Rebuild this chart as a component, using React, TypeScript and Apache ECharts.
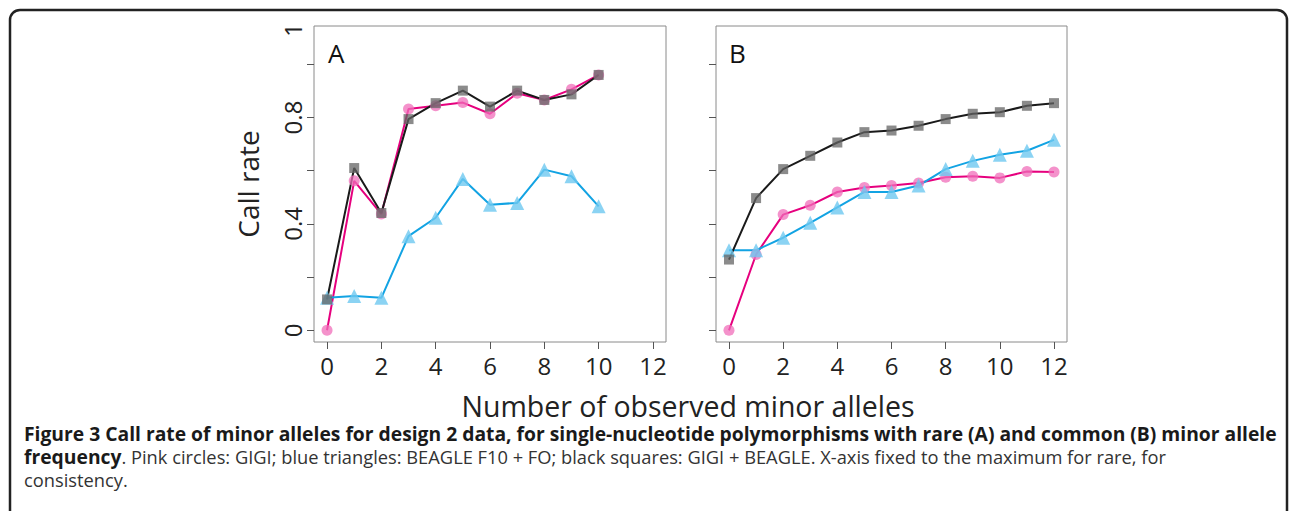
import React, { useEffect, useRef } from 'react';
import * as echarts from 'echarts';

// ---- data ----
const rareX = [0, 1, 2, 3, 4, 5, 6, 7, 8, 9, 10];
const rareGIGI = [0.0, 0.562, 0.437, 0.832, 0.844, 0.856, 0.814, 0.891, 0.866, 0.906, 0.96];
const rareBEAGLE = [0.122, 0.129, 0.122, 0.354, 0.423, 0.569, 0.472, 0.479, 0.604, 0.579, 0.466];
const rareBoth = [0.116, 0.61, 0.441, 0.794, 0.854, 0.901, 0.841, 0.901, 0.866, 0.887, 0.96];

const commonX = [0, 1, 2, 3, 4, 5, 6, 7, 8, 9, 10, 11, 12];
const commonGIGI = [0.0, 0.285, 0.435, 0.47, 0.52, 0.537, 0.544, 0.554, 0.575, 0.579, 0.573, 0.597, 0.595];
const commonBEAGLE = [0.301, 0.301, 0.348, 0.404, 0.462, 0.52, 0.52, 0.544, 0.606, 0.637, 0.66, 0.675, 0.716];
const commonBoth = [0.266, 0.497, 0.606, 0.656, 0.706, 0.745, 0.751, 0.769, 0.794, 0.814, 0.82, 0.844, 0.854];

const xTickValues = [0, 2, 4, 6, 8, 10, 12];
const yTickValues = [0, 0.2, 0.4, 0.6, 0.8, 1.0];
const yLabelValues = [0, 0.4, 0.8, 1.128];
const yLabelText = ['0', '0.4', '0.8', '1'];

const panelLabels = ['A', 'B'];
const yTitle = 'Call rate';
const xTitle = 'Number of observed minor alleles';
const captionBold1 = 'Figure 3 Call rate of minor alleles for design 2 data, for single-nucleotide polymorphisms with rare (A) and common (B) minor allele';
const captionBold2 = 'frequency';
const captionNormal2 = '. Pink circles: GIGI; blue triangles: BEAGLE F10 + FO; black squares: GIGI + BEAGLE. X-axis fixed to the maximum for rare, for';
const captionNormal3 = 'consistency.';

const FONT = 'Open Sans';

const pair = (xs: number[], ys: number[]) => xs.map((x, i) => [x, ys[i]]);

export default function App() {
  const ref = useRef<HTMLDivElement>(null);
  useEffect(() => {
    if (!ref.current) return;
    const chart = echarts.init(ref.current, null, { renderer: 'svg' });

    const grids = [
      { left: 314, top: 26, width: 352, height: 316 },
      { left: 716, top: 26, width: 351, height: 316 },
    ];

    const xAxis = [0, 1].map((i) => ({
      type: 'value',
      gridIndex: i,
      min: -0.48,
      max: 12.48,
      axisLine: { show: false, onZero: false },
      splitLine: { show: false },
      axisTick: { show: true, length: 7, inside: false, customValues: xTickValues, lineStyle: { color: '#555', width: 1 } },
      axisLabel: {
        show: true,
        customValues: xTickValues,
        margin: 11,
        fontSize: 24,
        fontFamily: FONT,
        color: '#222',
      },
    }));

    const yAxis = [0, 1].map((i) => ({
      type: 'value',
      gridIndex: i,
      min: -0.044,
      max: 1.144,
      name: i === 0 ? yTitle : '',
      nameLocation: 'middle',
      nameRotate: 90,
      nameGap: 52,
      nameTextStyle: { fontSize: 28, fontFamily: FONT, color: '#222' },
      axisLine: { show: false, onZero: false },
      splitLine: { show: false },
      axisTick: { show: true, length: 7, inside: false, customValues: yTickValues, lineStyle: { color: '#555', width: 1 } },
      axisLabel: {
        show: i === 0,
        customValues: yLabelValues,
        rotate: 90,
        margin: 10,
        fontSize: 24,
        fontFamily: FONT,
        color: '#222',
        formatter: (v: number) => {
          const k = yLabelValues.findIndex((u) => Math.abs(u - v) < 1e-6);
          return k >= 0 ? yLabelText[k] : '';
        },
      },
    }));

    const mk = (idx: number, xs: number[], ys: number[], kind: 'gigi' | 'beagle' | 'both') => {
      const styles = {
        gigi: { line: '#e6007e', fill: 'rgba(240,110,185,0.75)', symbol: 'circle', size: 11 },
        beagle: { line: '#12a3e3', fill: 'rgba(110,200,240,0.8)', symbol: 'triangle', size: 14 },
        both: { line: '#1a1a1a', fill: 'rgba(100,100,100,0.75)', symbol: 'rect', size: 10 },
      }[kind];
      return {
        type: 'line',
        xAxisIndex: idx,
        yAxisIndex: idx,
        data: pair(xs, ys),
        symbol: styles.symbol,
        symbolSize: styles.size,
        showSymbol: true,
        lineStyle: { color: styles.line, width: 2 },
        itemStyle: { color: styles.fill, borderWidth: 0 },
        emphasis: { disabled: true },
        silent: true,
      };
    };

    const grid = grids.map((g) => ({
      ...g,
      show: true,
      borderColor: '#8a8a8a',
      borderWidth: 1,
      backgroundColor: 'transparent',
    }));

    chart.setOption({
      animation: false,
      textStyle: { fontFamily: FONT },
      grid,
      xAxis,
      yAxis,
      series: [
        mk(0, rareX, rareGIGI, 'gigi'),
        mk(0, rareX, rareBEAGLE, 'beagle'),
        mk(0, rareX, rareBoth, 'both'),
        mk(1, commonX, commonGIGI, 'gigi'),
        mk(1, commonX, commonBEAGLE, 'beagle'),
        mk(1, commonX, commonBoth, 'both'),
      ],
      graphic: [
        {
          type: 'rect',
          shape: { x: 10, y: 10, width: 1277, height: 560, r: 10 },
          style: { fill: 'none', stroke: '#222', lineWidth: 2.5 },
          silent: true,
        },
        {
          type: 'text',
          x: 328,
          y: 53,
          style: { text: panelLabels[0], fontSize: 26, fontFamily: FONT, fill: '#111', verticalAlign: 'middle' },
        },
        {
          type: 'text',
          x: 729,
          y: 53,
          style: { text: panelLabels[1], fontSize: 26, fontFamily: FONT, fill: '#111', verticalAlign: 'middle' },
        },
        {
          type: 'text',
          x: 688,
          y: 406,
          style: { text: xTitle, fontSize: 28.5, lineHeight: 24, fontFamily: FONT, fill: '#222', align: 'center', verticalAlign: 'middle' },
        },
        {
          type: 'text',
          x: 24,
          y: 422,
          style: {
            text:
              '{b|' + captionBold1 + '}\n{b|' + captionBold2 + '}{n|' + captionNormal2 + '}\n{n|' + captionNormal3 + '}',
            fontFamily: FONT,
            rich: {
              b: { fontSize: 19.3, fontWeight: 'bold', fill: '#1a1a1a', fontFamily: FONT, lineHeight: 23 },
              n: { fontSize: 18.3, fill: '#333', fontFamily: FONT, lineHeight: 23 },
            },
          },
        },
      ],
    });
    return () => chart.dispose();
  }, []);
  return <div ref={ref} style={{ position: 'fixed', left: 0, top: 0, width: 1290, height: 511, background: '#fff' }} />;
}
